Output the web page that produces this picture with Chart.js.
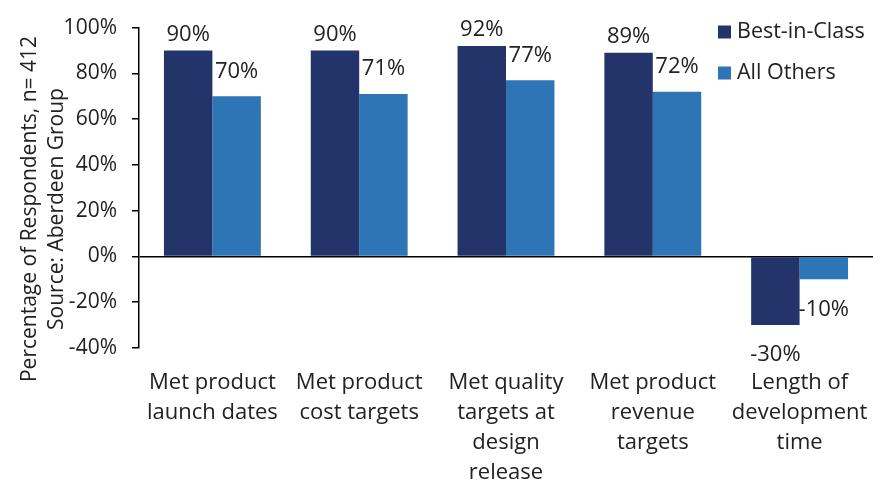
<!DOCTYPE html>
<html><head><meta charset="utf-8">
<script src="https://cdn.jsdelivr.net/npm/chart.js@4/dist/chart.umd.min.js"></script>
<style>html,body{margin:0;padding:0;background:#fff;}#wrap{width:880px;height:485px;}</style>
</head><body><div id="wrap"><canvas id="c" width="880" height="485"></canvas></div>
<script>
const categories = [
  ["Met product", "launch dates"],
  ["Met product", "cost targets"],
  ["Met quality", "targets at", "design", "release"],
  ["Met product", "revenue", "targets"],
  ["Length of", "development", "time"]
];
const seriesNames = ["Best-in-Class", "All Others"];
const bestInClass = [90, 90, 92, 89, -30];
const allOthers = [70, 71, 77, 72, -10];
const yMin = -40, yMax = 100, yStep = 20;
const yTitleLines = ["Percentage of Respondents, n= 412", "Source: Aberdeen Group"];

const FONT = "'Open Sans', 'Noto Sans', sans-serif";
const TXT = '#222';
const DARK = '#23346A';
const LIGHT = '#2E75B6';

const yTitlePlugin = {
  id: 'yTitle',
  afterDraw(chart) {
    const ctx = chart.ctx;
    ctx.save();
    ctx.translate(30, 209);
    ctx.rotate(-Math.PI / 2);
    ctx.fillStyle = TXT;
    ctx.font = "21px " + FONT;
    ctx.textAlign = 'center';
    ctx.textBaseline = 'middle';
    yTitleLines.forEach((l, i) => ctx.fillText(l, 0, i * 27));
    ctx.restore();
  }
};

const labelPlugin = {
  id: 'barLabels',
  afterDatasetsDraw(chart) {
    const ctx = chart.ctx;
    const posOff = [16, 25];
    const negOff = 30;
    ctx.save();
    ctx.fillStyle = TXT;
    ctx.font = "22px " + FONT;
    ctx.textAlign = 'center';
    ctx.textBaseline = 'middle';
    chart.data.datasets.forEach((ds, i) => {
      const meta = chart.getDatasetMeta(i);
      meta.data.forEach((bar, j) => {
        const v = ds.data[j];
        const y = v >= 0 ? bar.y - posOff[i] : bar.y + negOff;
        ctx.fillText(v + '%', bar.x, y);
      });
    });
    ctx.restore();
  }
};

const legendPlugin = {
  id: 'customLegend',
  afterDraw(chart) {
    const ctx = chart.ctx;
    ctx.save();
    ctx.font = "21.5px " + FONT;
    ctx.textBaseline = 'middle';
    ctx.textAlign = 'left';
    chart.data.datasets.forEach((ds, i) => {
      const cy = 32 + i * 41;
      ctx.fillStyle = ds.backgroundColor;
      ctx.fillRect(718, cy - 6.5, 13, 13);
      ctx.fillStyle = TXT;
      ctx.fillText(ds.label, 737, cy);
    });
    ctx.restore();
  }
};

new Chart(document.getElementById('c'), {
  type: 'bar',
  data: {
    labels: categories,
    datasets: [
      { label: seriesNames[0], data: bestInClass, backgroundColor: DARK },
      { label: seriesNames[1], data: allOthers, backgroundColor: LIGHT }
    ]
  },
  options: {
    responsive: false,
    animation: false,
    layout: { padding: { top: 21, right: 7, left: 0, bottom: 0 } },
    datasets: { bar: { categoryPercentage: 0.66, barPercentage: 1.0 } },
    plugins: { legend: { display: false }, tooltip: { enabled: false } },
    scales: {
      x: {
        grid: { display: false, drawTicks: false },
        border: { display: false },
        ticks: { font: { family: FONT, size: 22, lineHeight: 30 / 22 }, color: TXT, padding: 20, maxRotation: 0, autoSkip: false },
        afterFit(s) { s.height = 137; s.paddingLeft = 0; s.paddingRight = 0; }
      },
      y: {
        min: yMin, max: yMax,
        ticks: { stepSize: yStep, callback: v => v + '%', font: { family: FONT, size: 21 }, color: TXT, padding: 15 },
        grid: {
          color: c => (c.tick && c.tick.value === 0) ? '#000' : 'rgba(0,0,0,0)',
          tickColor: '#000', tickLength: 7, lineWidth: 1.5, tickWidth: 1.5
        },
        border: { display: true, color: '#000', width: 1.5 },
        afterFit(s) { s.width = 139; }
      }
    }
  },
  plugins: [yTitlePlugin, labelPlugin, legendPlugin]
});
</script>
</body></html>
